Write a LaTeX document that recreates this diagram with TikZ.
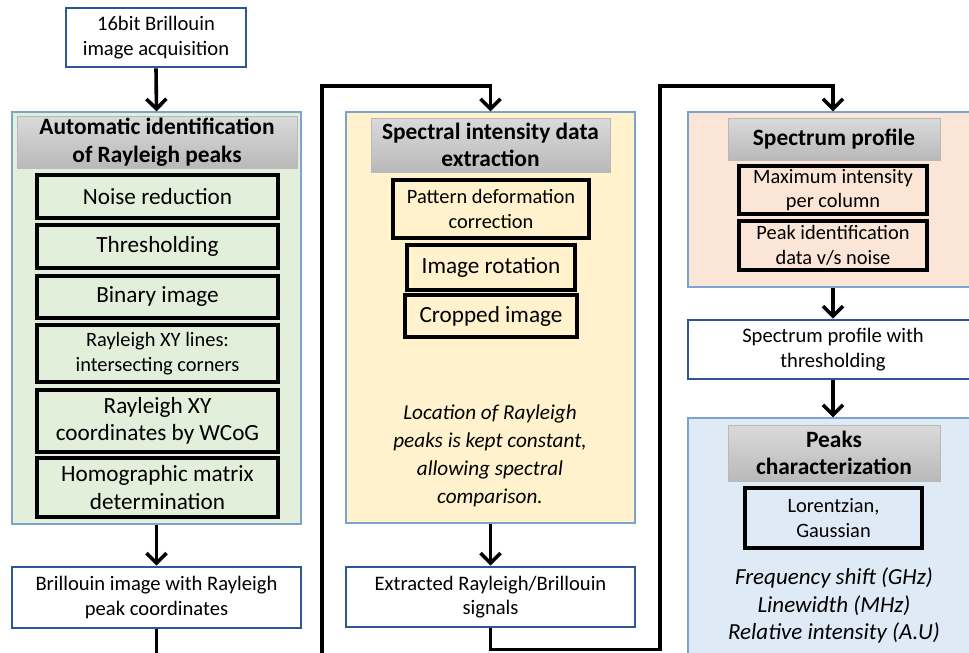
\documentclass[tikz,border=0pt]{standalone}
\usepackage{fontspec}
\setmainfont{Carlito}
\usetikzlibrary{arrows.meta, positioning}
\definecolor{greenfill}{HTML}{E2EFDA}
\definecolor{yellowfill}{HTML}{FFF2CC}
\definecolor{pinkfill}{HTML}{FBE5D6}
\definecolor{bluefill}{HTML}{DEEBF7}
\definecolor{panelline}{HTML}{7AA3CF}
\definecolor{boxblue}{HTML}{2F5597}
\definecolor{headtop}{HTML}{DADADA}
\definecolor{headbot}{HTML}{B9B9B9}

\begin{document}
\begin{tikzpicture}[x=0.5pt, y=-0.5pt, >={Straight Barb[length=5pt,width=10pt]},
	wh/.style 2 args={minimum width=#1, minimum height=#2},
	panel/.style={draw=panelline, line width=0.6pt, inner sep=0pt},
	headbar/.style={draw=headbot, line width=0.4pt, top color=headtop, bottom color=headbot, align=center, inner sep=0pt, font=\fontsize{11.7}{13.8}\selectfont\bfseries},
	stepbox/.style={draw=black, line width=2pt, align=center, inner sep=0pt, font=\fontsize{11.6}{13.8}\selectfont},
	smallstep/.style={stepbox, font=\fontsize{10.2}{12.2}\selectfont},
	outbox/.style={draw=boxblue, line width=1.3pt, fill=white, align=center, inner sep=0pt, font=\fontsize{10.3}{12.2}\selectfont},
	note/.style={align=center, font=\fontsize{10.6}{14}\selectfont\itshape},
	flow/.style={->, line width=1.8pt}]
		\useasboundingbox (0,0) rectangle (969,653);
		\clip (0,0) rectangle (969,653);
		
		% acquisition and Rayleigh peaks
		\node[outbox, wh={90pt}{29.5pt}] (acq) at (156,37.5) {16bit Brillouin\\image acquisition};
		\node[panel, fill=greenfill, wh={144.5pt}{206pt}] (autoid) at (156.5,318) {};
		\node[headbar, wh={140pt}{26pt}] (autohead) at (157,142) {Automatic identification\\of Rayleigh peaks};
		\node[stepbox, wh={120.5pt}{21.5pt}] (noise) at (157.5,196.5) {Noise reduction};
		\node[stepbox, wh={120.5pt}{21.5pt}] (thresh) at (157.5,246.5) {Thresholding};
		\node[stepbox, wh={120.5pt}{21pt}] (binary) at (157.5,297) {Binary image};
		\node[smallstep, wh={120.5pt}{28.5pt}] (xylines) at (157.5,353.5) {Rayleigh XY lines:\\intersecting corners};
		\node[stepbox, wh={120.5pt}{31pt}] (wcog) at (157.5,421) {Rayleigh XY\\coordinates by WCoG};
		\node[stepbox, wh={120.5pt}{29.5pt}] (homog) at (157.5,487.5) {Homographic matrix\\determination};
		\node[outbox, wh={144.5pt}{30.5pt}] (brill) at (156.5,597.5) {Brillouin image with Rayleigh\\peak coordinates};
		
		% spectral data
		\node[panel, fill=yellowfill, wh={144.5pt}{205.5pt}] (extract) at (490.5,317.5) {};
		\node[headbar, wh={119.5pt}{27pt}] (exthead) at (490.5,145) {Spectral intensity data\\extraction};
		\node[smallstep, wh={98pt}{29pt}] (deform) at (491,209) {Pattern deformation\\correction};
		\node[stepbox, wh={84pt}{22.5pt}] (rotate) at (491,267.5) {Image rotation};
		\node[stepbox, wh={86pt}{21pt}] (crop) at (491,316) {Cropped image};
		\node[note] (constant) at (490,455.5) {Location of Rayleigh\\peaks is kept constant,\\allowing spectral\\comparison.};
		\node[outbox, wh={144.5pt}{30pt}] (signals) at (490.5,597) {Extracted Rayleigh/Brillouin\\signals};
		
		% spectrum and peaks
		\node[panel, fill=pinkfill, wh={145pt}{87.5pt}] (profile) at (833,199.5) {};
		\node[headbar, wh={106pt}{21pt}] (profhead) at (834,139) {Spectrum profile};
		\node[smallstep, wh={94pt}{24pt}] (maxint) at (833,190) {Maximum intensity\\per column};
		\node[smallstep, wh={94pt}{24.5pt}] (peakid) at (833,245.5) {Peak identification\\data v/s noise};
		\node[outbox, wh={145pt}{29.5pt}] (profthr) at (833,349.5) {Spectrum profile with\\thresholding};
		\node[panel, fill=bluefill, wh={145pt}{123.5pt}] (peaks) at (833,541.5) {};
		\node[headbar, wh={106pt}{28pt}] (peakhead) at (834,453) {Peaks\\characterization};
		\node[smallstep, wh={88.5pt}{30pt}] (fit) at (833.5,518) {Lorentzian,\\Gaussian};
		\node[note, font=\fontsize{11.5}{13.8}\selectfont\itshape] (params) at (834,605.5) {Frequency shift (GHz)\\Linewidth (MHz)\\Relative intensity (A.U)};
		
		\coordinate (loopL) at (322,86);
		\coordinate (loopR) at (660,86);
		\draw[flow] (acq.south) -- (autoid.north);
		\draw[flow] (autoid.south) -- (brill.north);
		\draw[flow] (brill.south) -- ++(0,40) -| (loopL) -| (extract.north);
		\draw[flow] (extract.south) -- (signals.north);
		\draw[flow] (signals.south) -- ++(0,21) -| (loopR) -| (profile.north);
		\draw[flow] (profile.south) -- (profthr.north);
		\draw[flow] (profthr.south) -- (peaks.north);
\end{tikzpicture}
\end{document}
